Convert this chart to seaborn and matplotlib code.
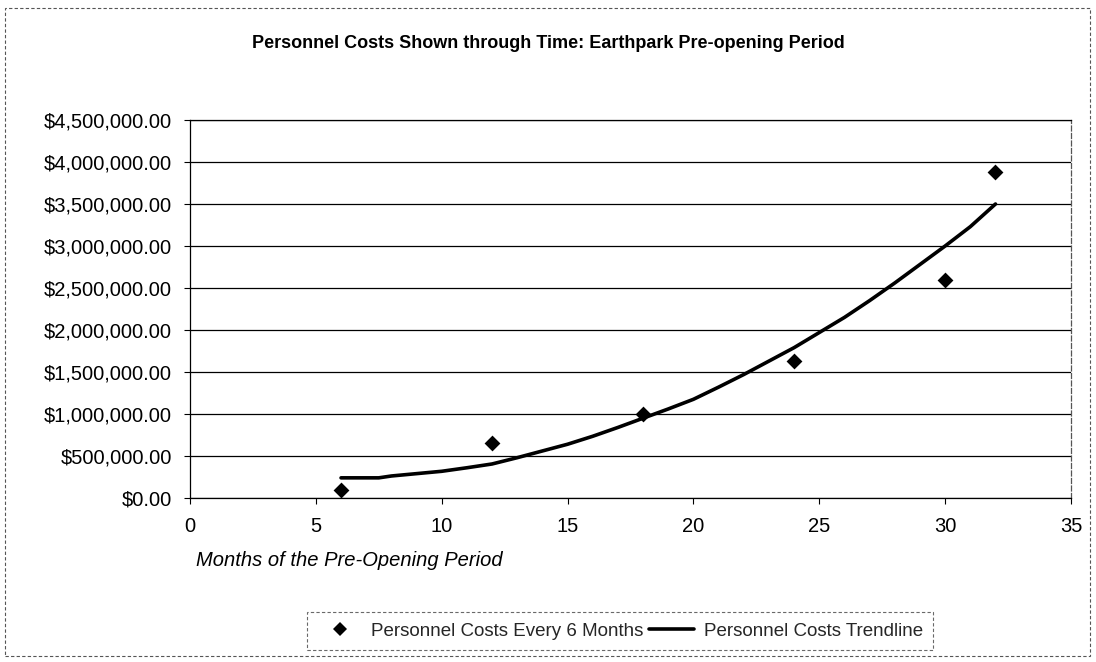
import matplotlib
matplotlib.use("Agg")
import matplotlib.pyplot as plt
import seaborn as sns
import pandas as pd
from matplotlib.ticker import FuncFormatter, MultipleLocator
from matplotlib.lines import Line2D
from matplotlib.patches import Rectangle

# ---- data ----
months = [6, 12, 18, 24, 30, 32]
costs = [100000, 660000, 995000, 1630000, 2600000, 3880000]

trend_months = [6, 7.5, 8, 9, 10, 11, 12, 13, 14, 15, 16, 17, 18, 19, 20,
                21, 22, 23, 24, 25, 26, 27, 28, 29, 30, 31, 32]
trend_costs = [240000, 240000, 262000, 290000, 318000, 360000, 405000, 480000,
               560000, 640000, 735000, 840000, 950000, 1060000, 1175000,
               1320000, 1470000, 1630000, 1790000, 1970000, 2150000, 2350000,
               2560000, 2780000, 3000000, 3230000, 3500000]

title = "Personnel Costs Shown through Time: Earthpark Pre-opening Period"
xlabel = "Months of the Pre-Opening Period"
series_points = "Personnel Costs Every 6 Months"
series_trend = "Personnel Costs Trendline"

sns.set_theme(style="white")
plt.rcParams['font.family'] = ['Liberation Sans', 'DejaVu Sans']

fig = plt.figure(figsize=(10.96, 6.62), dpi=100)
ax = fig.add_axes([190/1096, 1 - 498/662, (1071 - 190)/1096, (498 - 120)/662])

df_pts = pd.DataFrame({"month": months, "cost": costs})
df_tr = pd.DataFrame({"month": trend_months, "cost": trend_costs})

sns.lineplot(data=df_tr, x="month", y="cost", ax=ax, color="black",
             linewidth=2.6, zorder=3)
sns.scatterplot(data=df_pts, x="month", y="cost", ax=ax, marker="D",
                color="black", s=65, linewidth=0, zorder=4)

ax.set_xlim(0, 35)
ax.set_ylim(0, 4500000)
ax.xaxis.set_major_locator(MultipleLocator(5))
ax.yaxis.set_major_locator(MultipleLocator(500000))
ax.yaxis.set_major_formatter(FuncFormatter(lambda v, p: "${:,.2f}".format(v)))

ax.grid(axis="y", color="black", linewidth=0.9)
ax.grid(axis="x", visible=False)
ax.set_axisbelow(True)

for side in ["left", "bottom", "top"]:
    ax.spines[side].set_color("black")
    ax.spines[side].set_linewidth(0.9)
ax.spines["right"].set_color("#555555")
ax.spines["right"].set_linestyle((0, (4, 2)))
ax.spines["right"].set_linewidth(0.9)

ax.tick_params(axis="both", which="major", direction="out", length=4,
               width=0.8, color="black", labelsize=14.5, labelcolor="black",
               left=True, bottom=True)
ax.tick_params(axis="y", pad=9)
ax.tick_params(axis="x", pad=10)

ax.set_xlabel("")
ax.set_ylabel("")

fig.text(196/1096, 1 - 560/662, xlabel, fontsize=14.5, style="italic",
         ha="left", va="center", color="black")
fig.text(548/1096, 1 - 43/662, title, fontsize=13, fontweight="bold",
         ha="center", va="center", color="black")

handles = [
    Line2D([0], [0], marker="D", color="black", linestyle="none",
           markersize=7.5, markeredgewidth=0),
    Line2D([0], [0], color="black", linewidth=2.6),
]
leg = fig.legend(handles, [series_points, series_trend], loc="center",
                 bbox_to_anchor=(620/1096, 1 - 631/662), ncol=2,
                 frameon=True, fontsize=13.5, handlelength=2.4,
                 columnspacing=0.3, handletextpad=0.5, borderpad=0.55,
                 fancybox=False)
fr = leg.get_frame()
fr.set_edgecolor("#444444")
fr.set_linestyle((0, (3, 2)))
fr.set_linewidth(0.8)

# outer chart border
fig.patches.append(Rectangle((5/1096, 1 - 656/662), 1085/1096, 648/662,
                             transform=fig.transFigure, fill=False,
                             edgecolor="#555555", linewidth=0.8,
                             linestyle=(0, (3, 2))))

fig.savefig("out.png", dpi=100, facecolor="white")
